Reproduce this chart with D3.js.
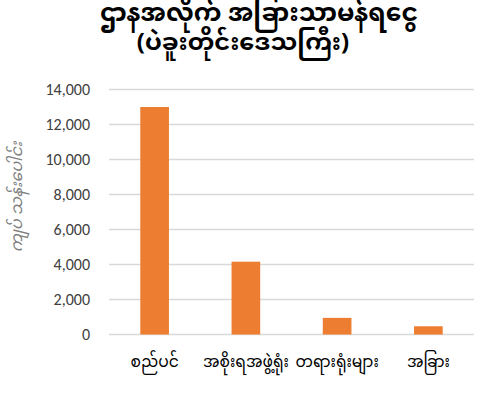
<!DOCTYPE html>
<html>
<head>
<meta charset="utf-8">
<script src="https://cdn.jsdelivr.net/npm/d3@7"></script>
<style>
  body { margin: 0; background: #fff; }
  svg { display: block; }
  .mm { font-family: "Noto Sans Myanmar", "Myanmar Text", Padauk, "Noto Sans", sans-serif; }
</style>
</head>
<body>
<div id="chart"></div>
<script>
const categories = ["စည်ပင်", "အစိုးရအဖွဲ့ရုံး", "တရားရုံးများ", "အခြား"];
const values = [13000, 4160, 950, 470];
const yTicks = [0, 2000, 4000, 6000, 8000, 10000, 12000, 14000];
const titleLines = ["ဌာနအလိုက် အခြားသာမန်ရငွေ", "(ပဲခူးတိုင်းဒေသကြီး)"];
const yTitle = "ကျပ် သန်းပေါင်း";

const width = 477;
const height = 415;
const margin = { top: 89.5, right: 3, bottom: 80.5, left: 109 };

const svg = d3.select("#chart")
  .append("svg")
  .attr("width", width)
  .attr("height", height);

const x = d3.scaleBand()
  .domain(categories)
  .range([margin.left, width - margin.right])
  .paddingInner(0.686)
  .paddingOuter(0.343);

const y = d3.scaleLinear()
  .domain([0, 14000])
  .range([height - margin.bottom, margin.top]);

// gridlines
svg.append("g")
  .selectAll("line")
  .data(yTicks)
  .join("line")
    .attr("x1", margin.left)
    .attr("x2", width - margin.right)
    .attr("y1", d => y(d))
    .attr("y2", d => y(d))
    .attr("stroke", "#d9d9d9")
    .attr("stroke-width", 1.3);

// tick labels
svg.append("g")
  .selectAll("text")
  .data(yTicks)
  .join("text")
    .attr("x", 90)
    .attr("y", d => y(d))
    .attr("dy", "0.35em")
    .attr("text-anchor", "end")
    .attr("font-family", "Carlito, 'Liberation Sans', sans-serif")
    .attr("font-size", 16)
    .attr("fill", "#404040")
    .text(d3.format(","));

// bars
svg.append("g")
  .selectAll("rect")
  .data(values)
  .join("rect")
    .attr("x", (d, i) => x(categories[i]))
    .attr("y", d => y(d))
    .attr("width", x.bandwidth())
    .attr("height", d => y(0) - y(d))
    .attr("fill", "#ed7d31");

// category labels
svg.append("g")
  .selectAll("text")
  .data(categories)
  .join("text")
    .attr("class", "mm")
    .attr("x", d => x(d) + x.bandwidth() / 2)
    .attr("y", 367)
    .attr("text-anchor", "middle")
    .attr("font-size", 15.5)
    .attr("fill", "#000")
    .text(d => d);

// y title
svg.append("text")
  .attr("class", "mm")
  .attr("transform", "translate(22,197) rotate(-90)")
  .attr("text-anchor", "middle")
  .attr("font-size", 16)
  .attr("font-style", "italic")
  .attr("fill", "#7f7f7f")
  .text(yTitle);

// title
svg.append("g")
  .selectAll("text")
  .data(titleLines)
  .join("text")
    .attr("class", "mm")
    .attr("x", (d, i) => i === 0 ? 259 : 243)
    .attr("y", (d, i) => 21 + i * 29)
    .attr("text-anchor", "middle")
    .attr("font-size", (d, i) => i === 0 ? 25 : 24)
    .attr("font-weight", "bold")
    .attr("fill", "#000")
    .text(d => d);
</script>
</body>
</html>
